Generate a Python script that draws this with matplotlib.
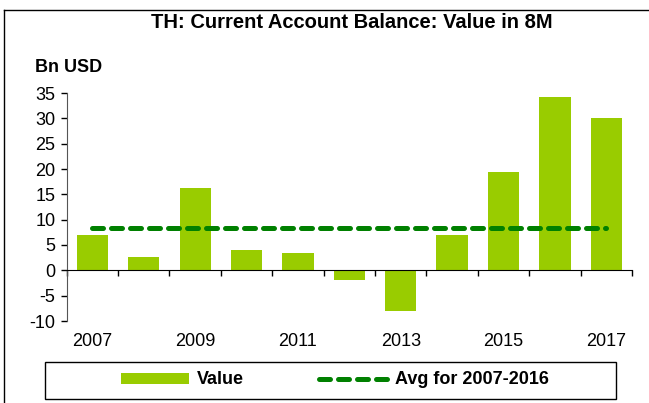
import matplotlib
matplotlib.use("Agg")
import matplotlib.pyplot as plt
from matplotlib.lines import Line2D
from matplotlib.patches import Patch, Rectangle
import matplotlib.transforms as mtransforms

years = [2007, 2008, 2009, 2010, 2011, 2012, 2013, 2014, 2015, 2016, 2017]
values = [7.0, 2.7, 16.2, 4.1, 3.4, -2.0, -8.1, 7.0, 19.4, 34.3, 30.0]
avg_value = 8.4
label_years = ["2007", "2009", "2011", "2013", "2015", "2017"]

BAR_COLOR = "#99cc00"
AVG_COLOR = "#008000"
TICK_FS = 13

plt.rcParams["font.family"] = ["Liberation Sans", "DejaVu Sans"]
plt.rcParams["axes.unicode_minus"] = False

W, H = 649, 403
fig = plt.figure(figsize=(W / 100, H / 100), dpi=100)

# frame lines on left and top, like the source page
fig.add_artist(Line2D([4 / W, 4 / W], [0, 1 - 10 / H], color="black", lw=1.0))
fig.add_artist(Line2D([4 / W, 1], [1 - 10 / H, 1 - 10 / H], color="black", lw=1.0))

ax = fig.add_axes([66.7 / W, 1 - 321 / H, (632 - 66.7) / W, (321 - 93) / H])
xs = list(range(len(years)))
ax.bar(xs, values, width=0.61, color=BAR_COLOR, zorder=2)
ax.plot([xs[0], xs[-1]], [avg_value, avg_value], color=AVG_COLOR, lw=3.6,
        dashes=(2.2, 1.6), dash_capstyle="round", zorder=3)

ax.set_xlim(-0.5, len(years) - 0.5)
ax.set_ylim(-10, 35)
ax.set_yticks(range(-10, 36, 5))
ax.tick_params(axis="y", direction="out", length=4, width=1, labelsize=TICK_FS, pad=4)
ax.set_xticks([i - 0.5 for i in range(len(years) + 1)])
ax.set_xticklabels([])
ax.tick_params(axis="x", direction="out", length=4, width=1)
for s in ["top", "right"]:
    ax.spines[s].set_visible(False)
ax.spines["bottom"].set_position(("data", 0))
ax.spines["left"].set_color("#555555")

trans = mtransforms.blended_transform_factory(ax.transData, ax.transAxes)
for i, lab in enumerate(label_years):
    ax.text(2 * i, -0.088, lab, transform=trans, ha="center", va="center", fontsize=TICK_FS)

fig.text(352 / W, 1 - 23 / H, "TH: Current Account Balance: Value in 8M",
         ha="center", va="center", fontsize=14.5, fontweight="bold")
fig.text(35 / W, 1 - 68 / H, "Bn USD", ha="left", va="center",
         fontsize=13, fontweight="bold")

# legend frame drawn separately so the box can be wider than its contents
fig.add_artist(Rectangle((45 / W, 1 - 399 / H), 571 / W, 37 / H, transform=fig.transFigure,
                         fill=False, edgecolor="black", lw=1.0))
handles = [Patch(facecolor=BAR_COLOR, edgecolor="none"),
           Line2D([0], [0], color=AVG_COLOR, lw=3.6, dashes=(2.2, 1.6), dash_capstyle="round")]
leg = fig.legend(handles, ["Value", "Avg for 2007-2016"], loc="center",
                 bbox_to_anchor=(335 / W, 1 - 380 / H), ncol=2, frameon=False,
                 handlelength=3.8, handleheight=0.55, handletextpad=0.4,
                 columnspacing=4.2, prop={"size": 13, "weight": "bold"})

fig.savefig("out.png", dpi=100)
